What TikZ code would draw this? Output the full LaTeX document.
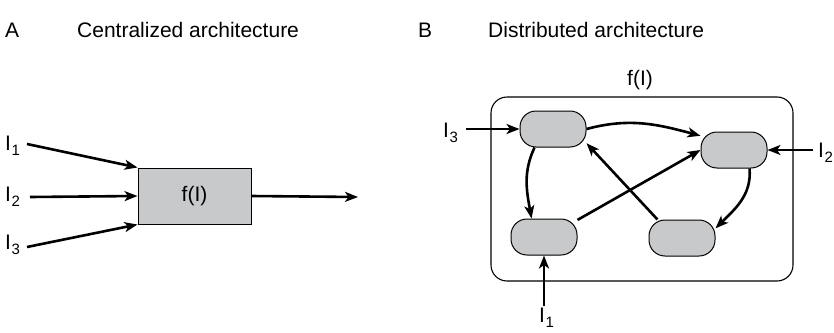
\documentclass[tikz,border=0pt]{standalone}
\usepackage{fontspec}
\setmainfont{Liberation Sans}
\usetikzlibrary{arrows.meta}
\newcommand{\Isb}[1]{I\kern0.5pt\raisebox{-5pt}{\fontsize{15}{15}\selectfont #1}}
\begin{document}
\begin{tikzpicture}[x=1pt,y=-1pt,
  txt/.style={font=\fontsize{21}{24}\selectfont, inner sep=0pt},
  arr/.style={line width=2.6pt, -{Stealth[length=13pt,width=10pt,inset=3.5pt]}},
  unit/.style={draw, line width=1pt, fill=boxgray, minimum width=66pt, minimum height=36pt, rounded corners=16pt, inner sep=0pt},
]
\definecolor{boxgray}{HTML}{C8C9CB}
\useasboundingbox (0,0) rectangle (834,332);
% headings
\node[txt, anchor=base west] (hA) at (5,37) {A};
\node[txt, anchor=base west] (tA) at (77,37) {Centralized architecture};
\node[txt, anchor=base west] (hB) at (418,37) {B};
\node[txt, anchor=base west] (tB) at (488,37) {Distributed architecture};

% Panel A
\node[draw, line width=1pt, fill=boxgray, minimum width=113pt, minimum height=56pt, inner sep=0pt, txt] (fa) at (194.5,196) {f(I)};
\node[txt, anchor=west] (a1l) at (5,146) {\Isb{1}};
\node[txt, anchor=west] (a2l) at (5,197) {\Isb{2}};
\node[txt, anchor=west] (a3l) at (5,245) {\Isb{3}};
\coordinate (a1) at (27,144);
\coordinate (a2) at (30,197);
\coordinate (a3) at (27,247);
\coordinate (aout) at (358,197);
\draw[arr] (a1) -- (fa.north west);
\draw[arr] (a2) -- (fa.west);
\draw[arr] (a3) -- (fa.south west);
\draw[arr] (fa.east) -- (aout);

% Panel B
\node[draw, line width=1.1pt, minimum width=302pt, minimum height=184pt, rounded corners=16pt] (outer) at (642,189) {};
\node[txt] (fl) at (640,80) {f(I)};
\node[unit] (tl) at (553,129) {};
\node[unit] (tr) at (734,150) {};
\node[unit] (bl) at (544,237) {};
\node[unit] (br) at (682,238) {};

\node[txt, anchor=west] (b3l) at (443,133) {\Isb{3}};
\node[txt, anchor=west] (b2l) at (818,153) {\Isb{2}};
\node[txt, anchor=west] (b1l) at (539,318) {\Isb{1}};
\coordinate (b3) at (466,129);
\coordinate (b2) at (813,150);
\coordinate (b1) at (544,306);
\draw[arr] (b3) -- (tl.west);
\draw[arr] (b2) -- (tr.east);
\draw[arr] (b1) -- (bl.south);

\draw[arr] (tl.east) to[out=15,in=165] (tr.157);
\draw[arr] (tl.225) to[out=245,in=100] (bl.124);
\draw[arr] (tr.-50) to[out=-85,in=45] (br.16);
\draw[arr] (bl.27) -- (tr.west);
\draw[arr] (br.143) -- (tl.-23);
\end{tikzpicture}
\end{document}
